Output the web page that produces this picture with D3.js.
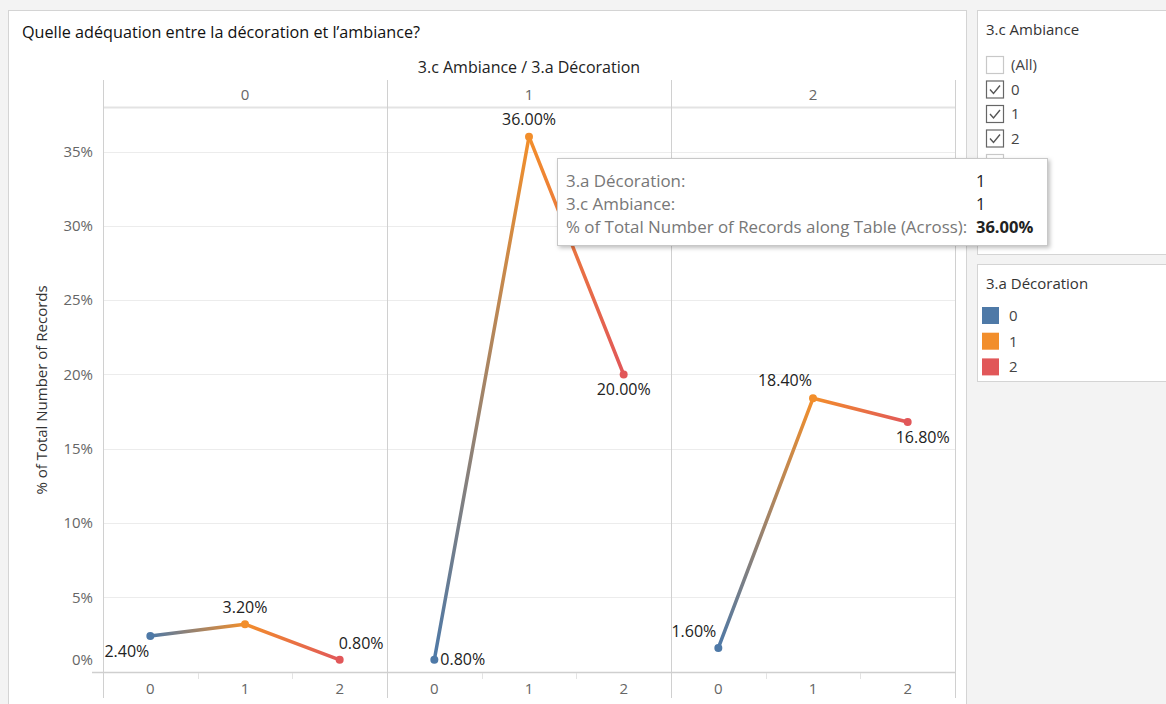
<!DOCTYPE html>
<meta charset="utf-8">
<title>Quelle adéquation entre la décoration et l'ambiance?</title>
<style>
  body { margin: 0; background: #f3f3f3; font-family: "Open Sans", Lato, sans-serif; }
  svg { display: block; }
</style>
<body>
<script src="https://cdn.jsdelivr.net/npm/d3@7"></script>
<script>
// ambiance columns, decoration points inside each column
var ambiance = ['0', '1', '2'];
var decoration = ['0', '1', '2'];
var pctAmb0 = [2.4, 3.2, 0.8];
var pctAmb1 = [0.8, 36.0, 20.0];
var pctAmb2 = [1.6, 18.4, 16.8];
var yTicks = [0, 5, 10, 15, 20, 25, 30, 35];
var filterItems = ['(All)', '0', '1', '2', ''];
var filterChecked = [false, true, true, true, false];

var decoColor = d3.scaleOrdinal().domain(decoration).range(['#4e79a7', '#f28e2b', '#e15759']);
var values = [pctAmb0, pctAmb1, pctAmb2];

// label placement per point: [anchor, dx, dy]
var labelPlace = [
  [['end', -1, 21], ['middle', 0, -11], ['start', -1, -11]],
  [['start', 6, 5], ['middle', 0, -12], ['middle', 0, 21]],
  [['end', -2, -11], ['end', -1, -12], ['start', -12, 21]]
];

var FONT = '"Open Sans", Lato, sans-serif';
var W = 1166, H = 704;
var svg = d3.select('body').append('svg').attr('width', W).attr('height', H)
  .style('font-family', FONT);

// backgrounds / panels
svg.append('rect').attr('x', 0).attr('y', 0).attr('width', W).attr('height', H).attr('fill', '#f3f3f3');
svg.append('rect').attr('x', 8.5).attr('y', 10.5).attr('width', 958).attr('height', 700)
  .attr('fill', '#fff').attr('stroke', '#d4d4d4');
svg.append('rect').attr('x', 977.5).attr('y', 10.5).attr('width', 200).attr('height', 244)
  .attr('fill', '#fff').attr('stroke', '#d4d4d4');
svg.append('rect').attr('x', 977.5).attr('y', 264.5).attr('width', 200).attr('height', 117)
  .attr('fill', '#fff').attr('stroke', '#d4d4d4');

svg.append('text').attr('x', 22).attr('y', 38).style('font-size', '16.2px').attr('fill', '#111')
  .text('Quelle adéquation entre la décoration et l\u2019ambiance?');

var plotL = 103, plotR = 955, plotT = 107, zeroY = 671.7;
var xOuter = d3.scaleBand().domain(ambiance).range([plotL, plotR]).padding(0);
var xInner = d3.scaleBand().domain(decoration).range([0, xOuter.bandwidth()]).padding(0);
var y = d3.scaleLinear().domain([0, 38]).range([zeroY, plotT]);

var g = svg.append('g');

// gridlines
g.selectAll('.grid').data(yTicks.slice(1)).enter().append('line')
  .attr('x1', plotL).attr('x2', plotR)
  .attr('y1', function(d){ return Math.round(y(d)) + 0.5; })
  .attr('y2', function(d){ return Math.round(y(d)) + 0.5; })
  .attr('stroke', '#ececec');

// header
g.append('text').attr('x', xOuter('1') + xOuter.bandwidth()/2).attr('y', 73)
  .attr('text-anchor', 'middle').style('font-size', '16px').attr('fill', '#222')
  .text('3.c Ambiance / 3.a Décoration');
g.append('line').attr('x1', plotL).attr('x2', plotR).attr('y1', plotT + 0.5).attr('y2', plotT + 0.5)
  .attr('stroke', '#e3e3e3').attr('stroke-width', 2);
ambiance.forEach(function(a){
  g.append('text').attr('x', xOuter(a) + xOuter.bandwidth()/2).attr('y', 100)
    .attr('text-anchor', 'middle').style('font-size', '15px').attr('fill', '#666').text(a);
});

// pane separators
d3.range(ambiance.length + 1).forEach(function(i){
  var x = Math.round(plotL + i * xOuter.bandwidth()) + 0.5;
  g.append('line').attr('x1', x).attr('x2', x).attr('y1', 80).attr('y2', 698)
    .attr('stroke', '#d0d0d0');
});

// bottom axis line
g.append('line').attr('x1', 92).attr('x2', plotR).attr('y1', Math.round(zeroY) + 0.5).attr('y2', Math.round(zeroY) + 0.5)
  .attr('stroke', '#cfcfcf').attr('stroke-width', 1.5);

// y axis
var yAxis = d3.axisLeft(y).tickValues(yTicks).tickSize(0).tickPadding(10)
  .tickFormat(function(d){ return d + '%'; });
var yg = g.append('g').attr('transform', 'translate(' + plotL + ',0)').call(yAxis);
yg.select('.domain').remove();
yg.selectAll('text').style('font-size', '15px').attr('fill', '#666').style('font-family', FONT)
  .attr('dy', function(d){ return d === 0 ? '-0.45em' : '0.32em'; });

g.append('text').attr('transform', 'translate(47,' + 390 + ') rotate(-90)')
  .attr('text-anchor', 'middle').style('font-size', '15px').attr('fill', '#333')
  .text('% of Total Number of Records');

// x axes per pane
ambiance.forEach(function(a){
  var xa = d3.axisBottom(xInner).tickSize(0).tickPadding(11);
  var ag = g.append('g').attr('transform', 'translate(' + xOuter(a) + ',' + Math.round(zeroY) + ')').call(xa);
  ag.select('.domain').remove();
  ag.selectAll('text').style('font-size', '15px').attr('fill', '#666').style('font-family', FONT);
  decoration.slice(1).forEach(function(d){
    var tx = Math.round(xInner(d)) + 0.5;
    ag.append('line').attr('x1', tx).attr('x2', tx).attr('y1', 1).attr('y2', 7).attr('stroke', '#e3e3e3');
  });
});

// lines with gradient and points
var defs = svg.append('defs');
var filt = defs.append('filter').attr('id', 'shadow').attr('x', '-5%').attr('y', '-10%').attr('width', '115%').attr('height', '130%');
filt.append('feDropShadow').attr('dx', 2).attr('dy', 2).attr('stdDeviation', 2).attr('flood-color', '#000').attr('flood-opacity', 0.25);

ambiance.forEach(function(a, ai){
  var pts = decoration.map(function(d, di){
    return { d: d, v: values[ai][di], x: xOuter(a) + xInner(d) + xInner.bandwidth()/2, y: y(values[ai][di]) };
  });
  for (var k = 0; k < pts.length - 1; k++) {
    var p = pts[k], q = pts[k + 1];
    var id = 'grad' + ai + k;
    var lg = defs.append('linearGradient').attr('id', id).attr('gradientUnits', 'userSpaceOnUse')
      .attr('x1', p.x).attr('y1', p.y).attr('x2', q.x).attr('y2', q.y);
    lg.append('stop').attr('offset', '0%').attr('stop-color', decoColor(p.d));
    lg.append('stop').attr('offset', '100%').attr('stop-color', decoColor(q.d));
    g.append('line').attr('x1', p.x).attr('y1', p.y).attr('x2', q.x).attr('y2', q.y)
      .attr('stroke', 'url(#' + id + ')').attr('stroke-width', 3.5).attr('stroke-linecap', 'round');
  }
  g.selectAll('.pt' + ai).data(pts).enter().append('circle')
    .attr('cx', function(p){ return p.x; }).attr('cy', function(p){ return p.y; }).attr('r', 4)
    .attr('fill', function(p){ return decoColor(p.d); });
  g.selectAll('.lb' + ai).data(pts).enter().append('text')
    .attr('x', function(p, i){ return p.x + labelPlace[ai][i][1]; })
    .attr('y', function(p, i){ return p.y + labelPlace[ai][i][2]; })
    .attr('text-anchor', function(p, i){ return labelPlace[ai][i][0]; })
    .style('font-size', '16px').attr('fill', '#222')
    .text(function(p){ return p.v.toFixed(2) + '%'; });
});

// filter panel
svg.append('text').attr('x', 986).attr('y', 35).style('font-size', '15px').attr('fill', '#333').text('3.c Ambiance');
filterItems.forEach(function(t, i){
  var cy = 56 + i * 24.5;
  svg.append('rect').attr('x', 986.5).attr('y', cy + 0.5).attr('width', 17).attr('height', 17)
    .attr('fill', '#fff').attr('stroke', filterChecked[i] ? '#666' : '#c8c8c8').attr('stroke-width', 1.2);
  if (filterChecked[i]) {
    svg.append('path').attr('d', 'M' + 990 + ',' + (cy + 9) + ' l3.5,4 l6.5,-8')
      .attr('fill', 'none').attr('stroke', '#555').attr('stroke-width', 1.4);
  }
  svg.append('text').attr('x', 1011).attr('y', cy + 14).style('font-size', '15px').attr('fill', '#444').text(t);
});

// colour legend
svg.append('text').attr('x', 986).attr('y', 289).style('font-size', '15px').attr('fill', '#333').text('3.a Décoration');
decoration.forEach(function(d, i){
  var cy = 307 + i * 25.7;
  svg.append('rect').attr('x', 982).attr('y', cy).attr('width', 17).attr('height', 17).attr('fill', decoColor(d));
  svg.append('text').attr('x', 1009).attr('y', cy + 14).style('font-size', '15px').attr('fill', '#444').text(d);
});

// tooltip for the hovered mark (ambiance 1, decoration 1)
var tip = svg.append('g');
tip.append('rect').attr('x', 557.5).attr('y', 158.5).attr('width', 490).attr('height', 87)
  .attr('fill', '#fff').attr('stroke', '#c8c8c8').attr('filter', 'url(#shadow)');
var tipRows = [['3.a Décoration:', decoration[1]], ['3.c Ambiance:', ambiance[1]],
  ['% of Total Number of Records along Table (Across):', values[1][1].toFixed(2) + '%']];
tipRows.forEach(function(r, i){
  tip.append('text').attr('x', 566).attr('y', 187 + i * 23).style('font-size', '16.9px').attr('fill', '#777').text(r[0]);
  tip.append('text').attr('x', 976).attr('y', 187 + i * 23).style('font-size', '16.5px').attr('fill', '#222')
    .style('font-weight', i === 2 ? 'bold' : 'normal').text(r[1]);
});
</script>
